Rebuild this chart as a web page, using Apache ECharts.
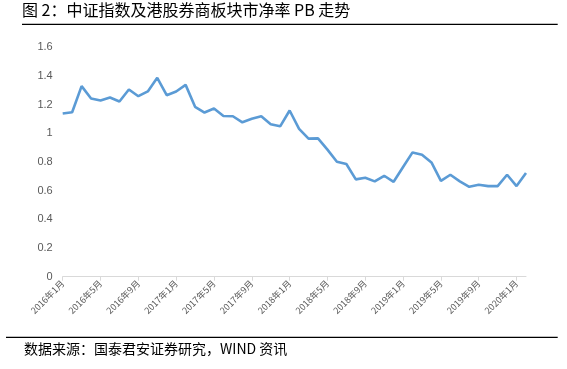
<!DOCTYPE html>
<html><head><meta charset="utf-8">
<script src="https://cdn.jsdelivr.net/npm/echarts@6/dist/echarts.min.js"></script>
<style>html,body{margin:0;padding:0;background:#fff}#c{width:567px;height:369px}</style>
</head><body><div id="c"></div>
<script>
var titleText = '图 2：中证指数及港股券商板块市净率 PB 走势';
var sourceText = '数据来源：国泰君安证券研究，WIND 资讯';
var categories = [];
(function(){ for (var y = 2016; y <= 2020; y++) for (var m = 1; m <= 12; m++) { if (y === 2020 && m > 2) break; categories.push(y + '年' + m + '月'); } })();
var pbValues = [1.138,1.147,1.329,1.243,1.229,1.250,1.222,1.306,1.259,1.292,
  1.387,1.266,1.292,1.338,1.185,1.145,1.173,1.121,1.119,1.077,
  1.101,1.119,1.063,1.049,1.159,1.031,0.963,0.965,0.886,0.802,
  0.786,0.679,0.690,0.665,0.704,0.662,0.765,0.867,0.851,0.797,
  0.669,0.711,0.665,0.627,0.641,0.632,0.632,0.711,0.632,0.723];
var yTicks = [0,0.2,0.4,0.6,0.8,1,1.2,1.4,1.6];

var chart = echarts.init(document.getElementById('c'), null, {renderer:'canvas'});
chart.setOption({
  animation:false,
  backgroundColor:'#fff',
  grid:{left:62.7,right:41,top:47.3,bottom:92.3},
  graphic:[
    {type:'text',left:22,top:2,style:{text:titleText,font:'16px "Noto Sans CJK SC"',fill:'#000'}},
    {type:'line',shape:{x1:22,y1:24.3,x2:557.7,y2:24.3},style:{stroke:'#000',lineWidth:1.3}},
    {type:'line',shape:{x1:6,y1:337.3,x2:557.7,y2:337.3},style:{stroke:'#000',lineWidth:1.3}},
    {type:'text',left:24,top:342,style:{text:sourceText,font:'14px "Noto Sans CJK SC"',fill:'#000'}}
  ],
  xAxis:{
    type:'category',data:categories,boundaryGap:false,
    axisLine:{lineStyle:{color:'#d9d9d9',width:1}},
    axisTick:{interval:3,length:4,lineStyle:{color:'#d9d9d9'}},
    axisLabel:{interval:3,rotate:45,color:'#595959',fontSize:9,fontFamily:'"Noto Sans CJK SC"',margin:5}
  },
  yAxis:{
    type:'value',min:0,max:1.6,interval:0.2,
    axisLine:{show:false},axisTick:{show:false},splitLine:{show:false},
    axisLabel:{color:'#595959',fontSize:11,fontFamily:'Liberation Sans',margin:10,
      formatter:function(v){ var r = Math.round(v*10)/10; return yTicks.indexOf(r) >= 0 ? String(r) : ''; }}
  },
  series:[{type:'line',data:pbValues,symbol:'none',lineStyle:{color:'#5b9bd5',width:2.6},itemStyle:{color:'#5b9bd5'}}]
});
</script></body></html>
